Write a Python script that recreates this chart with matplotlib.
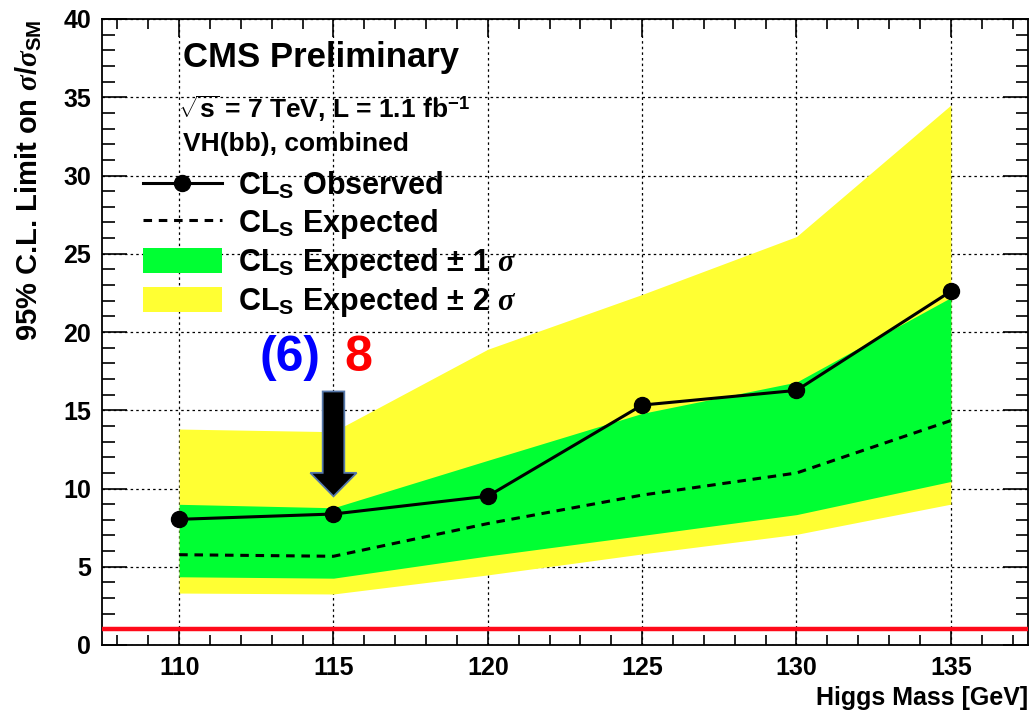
import matplotlib
matplotlib.use("Agg")
import matplotlib.pyplot as plt
from matplotlib.lines import Line2D
from matplotlib.patches import Patch
from matplotlib.ticker import MultipleLocator

plt.rcParams['font.family'] = ['Liberation Sans', 'DejaVu Sans']
plt.rcParams['font.weight'] = 'bold'
plt.rcParams['mathtext.fontset'] = 'custom'
plt.rcParams['mathtext.rm'] = 'Liberation Sans:bold'
plt.rcParams['mathtext.bf'] = 'Liberation Sans:bold'
plt.rcParams['mathtext.it'] = 'Liberation Serif:italic'
plt.rcParams['mathtext.sf'] = 'Liberation Sans:bold'

# ---- data ----
mass = [110, 115, 120, 125, 130, 135]
observed = [8.03, 8.37, 9.51, 15.33, 16.27, 22.6]
expected = [5.77, 5.67, 7.76, 9.58, 10.99, 14.34]
band1_up = [8.99, 8.77, 11.8, 14.8, 16.8, 22.2]
band1_dn = [4.36, 4.27, 5.69, 7.0, 8.33, 10.45]
band2_up = [13.8, 13.63, 18.9, 22.4, 26.1, 34.5]
band2_dn = [3.32, 3.26, 4.48, 5.82, 7.07, 9.0]
sm_level = 1.0
arrow_mass = 115
arrow_top = 16.2
arrow_tip = 9.5
xticks = [110, 115, 120, 125, 130, 135]
yticks = [0, 5, 10, 15, 20, 25, 30, 35, 40]

fig = plt.figure(figsize=(10.31, 7.13), dpi=100)
ax = fig.add_axes([102/1031, 68/713, 926/1031, 626/713])

dash = (0, (2.8, 2.2))
ax.fill_between(mass, band2_dn, band2_up, color='#ffff33', lw=0, zorder=2)
ax.fill_between(mass, band1_dn, band1_up, color='#00ff33', lw=0, zorder=3)
ax.plot(mass, expected, color='black', lw=2.2, ls=dash, zorder=4)
ax.plot(mass, observed, color='black', lw=2.2, marker='o', ms=11.5, zorder=5)
ax.axhline(sm_level, color='#ff0a1a', lw=3.2, zorder=6)

ax.set_xlim(107.5, 137.5)
ax.set_ylim(0, 40)
ax.set_xticks(xticks)
ax.set_yticks(yticks)
ax.xaxis.set_minor_locator(MultipleLocator(1))
ax.yaxis.set_minor_locator(MultipleLocator(1))
ax.tick_params(which='both', direction='in', top=True, right=True, labelsize=18, width=1.2, pad=8)
ax.tick_params(which='major', axis='y', length=18)
ax.tick_params(which='minor', axis='y', length=9)
ax.tick_params(which='major', axis='x', length=13)
ax.tick_params(which='minor', axis='x', length=7)
for lab in ax.get_xticklabels() + ax.get_yticklabels():
    lab.set_fontweight('bold')
for s in ax.spines.values():
    s.set_linewidth(1.3)
ax.grid(True, which='major', color='black', ls=(0, (2, 2.5)), lw=0.9, zorder=1)
ax.set_axisbelow(True)

ax.set_xlabel('Higgs Mass [GeV]', fontsize=18, fontweight='bold', loc='right', labelpad=4)
ax.set_ylabel(r'95% C.L. Limit on $\sigma/\sigma_{\mathrm{SM}}$', fontsize=21, fontweight='bold',
              loc='top', labelpad=14)

ax.text(0.087, 0.939, 'CMS Preliminary', transform=ax.transAxes, fontsize=25,
        fontweight='bold', va='center', ha='left')
ax.text(0.082, 0.856, r'$\sqrt{\mathrm{s}}$ = 7 TeV, L = 1.1 fb$^{\mathrm{-1}}$', transform=ax.transAxes,
        fontsize=19, fontweight='bold', va='center', ha='left')
ax.text(0.087, 0.800, 'VH(bb), combined', transform=ax.transAxes, fontsize=19,
        fontweight='bold', va='center', ha='left')

handles = [
    Line2D([], [], color='black', lw=2.2, marker='o', ms=11.5),
    Line2D([], [], color='black', lw=2.2, ls=dash),
    Patch(facecolor='#00ff33', edgecolor='none'),
    Patch(facecolor='#ffff33', edgecolor='none'),
]
labels = [r'CL$_{\mathrm{S}}$ Observed', r'CL$_{\mathrm{S}}$ Expected',
          r'CL$_{\mathrm{S}}$ Expected$\,\pm\,$1 $\sigma$', r'CL$_{\mathrm{S}}$ Expected$\,\pm\,$2 $\sigma$']
leg = ax.legend(handles, labels, loc='upper left', bbox_to_anchor=(0.044, 0.759),
                frameon=False, fontsize=22, handlelength=2.6, handleheight=0.9,
                handletextpad=0.52, labelspacing=0.17, borderpad=0, borderaxespad=0)
for t in leg.get_texts():
    t.set_fontweight('bold')

ax.arrow(arrow_mass, arrow_top, 0, -(arrow_top - arrow_tip), width=0.7, head_width=1.5,
         head_length=1.5, length_includes_head=True, facecolor='black', edgecolor='#5577aa',
         lw=1.3, zorder=8)

ax.text(0.203, 0.458, '(6)', transform=ax.transAxes, color='#0000ff', fontsize=36,
        fontweight='bold', ha='center', va='center')
ax.text(0.277, 0.458, '8', transform=ax.transAxes, color='#ff0000', fontsize=36,
        fontweight='bold', ha='center', va='center')

fig.savefig('out.png', dpi=100)
